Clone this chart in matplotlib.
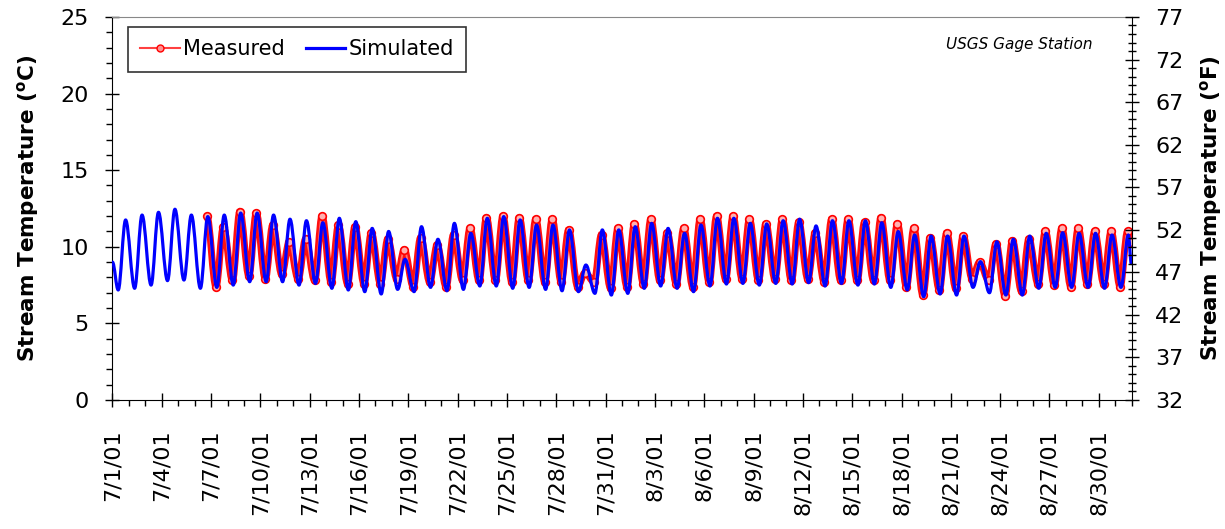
import numpy as np
import matplotlib.pyplot as plt
import matplotlib.patheffects as pe
from matplotlib.path import Path
from matplotlib.patches import PathPatch
from matplotlib.lines import Line2D

plt.rcParams['font.family'] = ['DejaVu Sans']

# days counted from 7/1/01 00:00
tick_days = list(range(0, 61, 3))
tick_labels = ['7/1/01', '7/4/01', '7/7/01', '7/10/01', '7/13/01', '7/16/01',
               '7/19/01', '7/22/01', '7/25/01', '7/28/01', '7/31/01', '8/3/01',
               '8/6/01', '8/9/01', '8/12/01', '8/15/01', '8/18/01', '8/21/01',
               '8/24/01', '8/27/01', '8/30/01']

# simulated daily min / max (deg C), days 0..61
sim_start = (0.0, 9.0)
sim_end = (61.98, 8.9)
sim_low_time = 0.35
sim_high_time = 0.80
sim_low = [7.18, 7.29, 7.50, 7.79, 7.83, 7.29, 7.35, 7.50, 7.72, 7.72,
           7.72, 7.50, 7.61, 7.29, 7.18, 7.07, 6.92, 7.22, 7.07, 7.35,
           7.13, 7.22, 7.44, 7.44, 7.29, 7.35, 7.22, 7.13, 7.07, 6.96,
           6.85, 6.96, 7.29, 7.44, 7.29, 7.07, 7.44, 7.57, 7.61, 7.50,
           7.61, 7.57, 7.66, 7.44, 7.61, 7.50, 7.57, 7.35, 7.18, 6.74,
           6.92, 6.85, 7.35, 7.00, 6.85, 6.85, 7.29, 7.35, 7.35, 7.35,
           7.29, 7.35]
sim_high = [11.75, 12.07, 12.25, 12.45, 12.07, 11.97, 12.07, 12.20, 12.20, 12.07,
            11.80, 11.70, 11.57, 11.86, 11.64, 11.20, 11.00, 9.18, 11.31, 10.49,
            11.53, 10.88, 11.86, 11.97, 11.75, 11.42, 11.42, 11.10, 8.81, 11.10,
            11.10, 11.31, 11.53, 11.20, 10.88, 11.42, 11.86, 11.86, 11.53, 11.49,
            11.70, 11.80, 11.36, 11.70, 11.70, 11.70, 11.57, 10.99, 10.77, 10.70,
            10.70, 10.70, 9.03, 10.33, 10.49, 10.70, 10.88, 10.92, 10.88, 10.88,
            10.77, 10.77]

# measured daily min / max (deg C), record starts evening of 7/6
meas_first = (5.74, 12.0)
meas_end = (61.98, 10.3)
meas_days = list(range(6, 62))
meas_low_time = 0.30
meas_high_time = 0.75
meas_low = [7.4, 7.8, 8.1, 7.9, 8.2, 7.9, 7.8, 7.7, 7.6, 7.6,
            7.6, 7.9, 7.4, 7.7, 7.4, 7.8, 7.8, 7.8, 7.7, 7.8,
            7.7, 7.7, 7.4, 7.7, 7.3, 7.4, 7.6, 7.8, 7.6, 7.4,
            7.7, 7.9, 7.9, 7.8, 7.9, 7.8, 7.9, 7.7, 7.8, 7.8,
            7.8, 7.8, 7.4, 6.85, 7.2, 7.3, 7.9, 7.8, 6.8, 7.1,
            7.6, 7.5, 7.4, 7.6, 7.6, 7.4]
meas_high = [11.3, 12.3, 12.2, 11.4, 10.3, 10.5, 12.0, 11.4, 11.3, 10.9,
             10.5, 9.8, 10.6, 10.1, 10.8, 11.2, 11.9, 12.0, 11.9, 11.8,
             11.8, 11.1, 8.3, 10.8, 11.2, 11.5, 11.8, 10.9, 11.2, 11.8,
             12.0, 12.0, 11.8, 11.5, 11.8, 11.6, 10.9, 11.8, 11.8, 11.6,
             11.9, 11.5, 11.2, 10.6, 10.9, 10.7, 9.0, 10.2, 10.4, 10.5,
             11.0, 11.2, 11.2, 11.0, 11.0, 11.0]


def series(start, days, lows, highs, t_lo, t_hi, end):
    t = [start[0]]
    y = [start[1]]
    for d, lo, hi in zip(days, lows, highs):
        t += [d + t_lo, d + t_hi]
        y += [lo, hi]
    t.append(end[0])
    y.append(end[1])
    return np.array(t), np.array(y)


def smooth_path(t, y, k=0.36):
    # cubic segments with flat tangents at each daily turning point
    verts = [(t[0], y[0])]
    codes = [Path.MOVETO]
    for i in range(1, len(t)):
        h = t[i] - t[i - 1]
        verts += [(t[i - 1] + k * h, y[i - 1]), (t[i] - k * h, y[i]), (t[i], y[i])]
        codes += [Path.CURVE4] * 3
    return Path(verts, codes)


sim_t, sim_y = series(sim_start, range(62), sim_low, sim_high,
                      sim_low_time, sim_high_time, sim_end)
meas_t, meas_y = series(meas_first, meas_days, meas_low, meas_high,
                        meas_low_time, meas_high_time, meas_end)

fig = plt.figure(figsize=(12.25, 5.29), dpi=100)
ax = fig.add_axes([0.0918, 0.2439, 0.8320, 0.7240])

red_patch = PathPatch(smooth_path(meas_t, meas_y), fill=False, edgecolor='#ff7070',
                      lw=1.3, zorder=2,
                      path_effects=[pe.Stroke(linewidth=5, foreground='#ff1010'), pe.Normal()])
ax.add_patch(red_patch)
ax.plot(meas_t, meas_y, ls='none', marker='o', ms=5.5, mfc='#ffb0b0', mec='red',
        mew=1.2, zorder=3)

blue_patch = PathPatch(smooth_path(sim_t, sim_y), fill=False, edgecolor='#0000ff',
                       lw=2.3, zorder=4, capstyle='round', joinstyle='round')
ax.add_patch(blue_patch)

ax.set_xlim(0, 62)
ax.set_ylim(0, 25)
ax.set_xticks(tick_days)
ax.set_xticklabels(tick_labels, rotation=90, fontsize=16)
ax.set_xticks(range(0, 63), minor=True)
ax.set_yticks(range(0, 26, 5))
ax.set_yticks(range(0, 26), minor=True)
ax.tick_params(axis='both', which='major', direction='inout', length=10, width=1,
               labelsize=16, pad=12)
ax.tick_params(axis='both', which='minor', direction='out', length=4, width=1)
ax.tick_params(axis='x', which='major', pad=16)
ax.spines['top'].set_color('#888888')
ax.spines['top'].set_linewidth(0.8)
ax.spines['right'].set_visible(False)
ax.set_ylabel('Stream Temperature ($\\mathbf{^o}$C)', fontsize=15.5, fontweight='bold',
              labelpad=14)

ax2 = ax.twinx()
ax2.set_ylim(32, 77)
ax2.set_yticks(range(32, 78, 5))
ax2.set_yticks(range(32, 78), minor=True)
ax2.tick_params(axis='y', which='major', direction='inout', length=10, width=1,
                labelsize=16, pad=12)
ax2.tick_params(axis='y', which='minor', direction='inout', length=6, width=1)
for s in ['top', 'left', 'bottom']:
    ax2.spines[s].set_visible(False)
ax2.set_ylabel('Stream Temperature ($\\mathbf{^o}$F)', fontsize=15.5, fontweight='bold',
               labelpad=10)

handles = [Line2D([], [], color='#ff4040', lw=1.5, marker='o', ms=5,
                  mfc='#ff9090', mec='red'),
           Line2D([], [], color='#0000ff', lw=2.3)]
leg = ax.legend(handles, ['Measured', 'Simulated'], loc='upper left',
                bbox_to_anchor=(0.015, 0.975), ncol=2, fontsize=15, frameon=True,
                fancybox=False, edgecolor='black', handlelength=1.9,
                handletextpad=0.15, columnspacing=1.0, borderpad=0.6,
                borderaxespad=0)
leg.get_frame().set_linewidth(1.2)

ax.text(0.962, 0.928, 'USGS Gage Station', transform=ax.transAxes, ha='right',
        va='center', fontsize=11, style='italic')

fig.savefig('out.png', dpi=100)
